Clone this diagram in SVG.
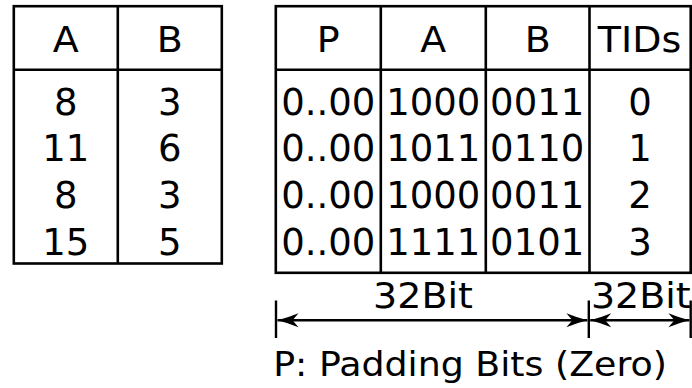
<svg xmlns="http://www.w3.org/2000/svg" width="692" height="388" viewBox="0 0 692 388">
  <style>
    .grid { fill: none; stroke: #000; stroke-width: 2.6; }
    .tick { stroke: #000; stroke-width: 2.4; }
    .dim { stroke: #000; stroke-width: 2.4; fill: none; marker-start: url(#head); marker-end: url(#head); }
    text { font-family: "DejaVu Sans", "Liberation Sans", sans-serif; fill: #000; }
    .hd { font-size: 35px; text-anchor: middle; }
    .val { font-size: 37px; text-anchor: middle; }
    .lbl { font-size: 35px; text-anchor: middle; }
    .note { font-size: 33.5px; }
  </style>
  <defs>
    <marker id="head" viewBox="-23 -9 25 18" refX="0" refY="0" markerWidth="25" markerHeight="18" markerUnits="userSpaceOnUse" orient="auto-start-reverse">
      <path d="M0,0 Q-10,-2.5 -21,-7 L-15,0 L-21,7 Q-10,2.5 0,0 Z" fill="#000"/>
    </marker>
  </defs>
  <rect width="692" height="388" fill="#fff"/>

  <!-- plain table: values of A and B -->
  <g id="table-values">
    <rect class="grid" x="13.8" y="6.2" width="208" height="257.3"/>
    <line class="grid" x1="13.8" y1="69.8" x2="221.8" y2="69.8"/>
    <line class="grid" x1="117.8" y1="6.2" x2="117.8" y2="263.5"/>
    <text class="hd" transform="translate(65.8 51.7) scale(1.085 1)">A</text>
    <text class="hd" transform="translate(169.8 51.7) scale(1.085 1)">B</text>
    <text class="val" x="65.8" y="114.6">8</text>
    <text class="val" x="169.8" y="114.6">3</text>
    <text class="val" x="65.8" y="161.3">11</text>
    <text class="val" x="169.8" y="161.3">6</text>
    <text class="val" x="65.8" y="207.9">8</text>
    <text class="val" x="169.8" y="207.9">3</text>
    <text class="val" x="65.8" y="254.6">15</text>
    <text class="val" x="169.8" y="254.6">5</text>
  </g>

  <!-- packed table: padding, A bits, B bits, tuple ids -->
  <g id="table-packed">
    <rect class="grid" x="275.8" y="6.2" width="414.9" height="266.6"/>
    <line class="grid" x1="275.8" y1="69.8" x2="690.7" y2="69.8"/>
    <line class="grid" x1="380.8" y1="6.2" x2="380.8" y2="272.8"/>
    <line class="grid" x1="485.8" y1="6.2" x2="485.8" y2="272.8"/>
    <line class="grid" x1="589.5" y1="6.2" x2="589.5" y2="272.8"/>
    <text class="hd" transform="translate(328.3 51.7) scale(1.085 1)">P</text>
    <text class="hd" transform="translate(433.3 51.7) scale(1.085 1)">A</text>
    <text class="hd" transform="translate(537.7 51.7) scale(1.085 1)">B</text>
    <text class="hd" transform="translate(639.5 51.7) scale(1.085 1)">TIDs</text>

    <text class="val" x="328.3" y="114.6">0..00</text>
    <text class="val" x="433.3" y="114.6">1000</text>
    <text class="val" x="537.2" y="114.6">0011</text>
    <text class="val" x="640.1" y="114.6">0</text>

    <text class="val" x="328.3" y="161.3">0..00</text>
    <text class="val" x="433.3" y="161.3">1011</text>
    <text class="val" x="537.2" y="161.3">0110</text>
    <text class="val" x="640.1" y="161.3">1</text>

    <text class="val" x="328.3" y="207.9">0..00</text>
    <text class="val" x="433.3" y="207.9">1000</text>
    <text class="val" x="537.2" y="207.9">0011</text>
    <text class="val" x="640.1" y="207.9">2</text>

    <text class="val" x="328.3" y="254.6">0..00</text>
    <text class="val" x="433.3" y="254.6">1111</text>
    <text class="val" x="537.2" y="254.6">0101</text>
    <text class="val" x="640.1" y="254.6">3</text>
  </g>

  <!-- width dimensions under the packed table -->
  <g id="dimensions">
    <line class="tick" x1="276" y1="300.5" x2="276" y2="338"/>
    <line class="tick" x1="588.8" y1="300.5" x2="588.8" y2="338"/>
    <line class="tick" x1="690.7" y1="300.5" x2="690.7" y2="338"/>
    <line class="dim" x1="277.5" y1="320.3" x2="587.4" y2="320.3"/>
    <line class="dim" x1="590.2" y1="320.3" x2="689.4" y2="320.3"/>
    <text class="lbl" transform="translate(423 308.3) scale(1.085 1)">32Bit</text>
    <text class="lbl" transform="translate(640.8 308.3) scale(1.085 1)">32Bit</text>
  </g>

  <text class="note" transform="translate(273.2 376) scale(1.085 1)">P: Padding Bits (Zero)</text>
</svg>
